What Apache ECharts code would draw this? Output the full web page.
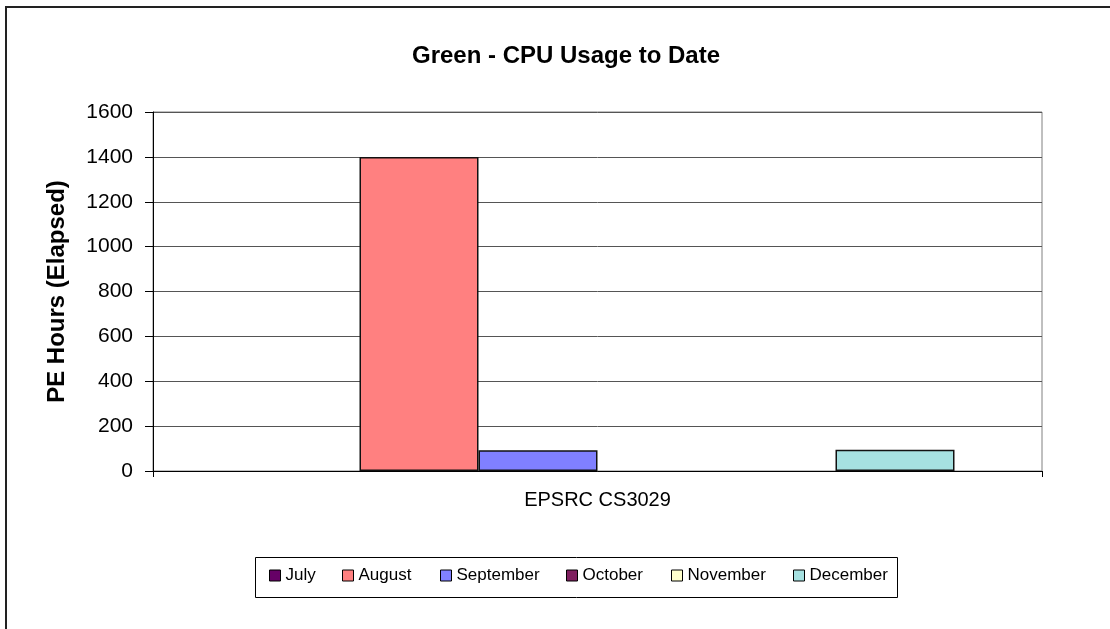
<!DOCTYPE html>
<html>
<head>
<meta charset="utf-8">
<script src="https://cdn.jsdelivr.net/npm/echarts@6/dist/echarts.min.js"></script>
<style>
  html, body { margin: 0; padding: 0; background: #fff; }
  #chart { width: 1110px; height: 629px; }
</style>
</head>
<body>
<div id="chart"></div>
<script>
// data
const categories = ['EPSRC CS3029']
const months = ['July', 'August', 'September', 'October', 'November', 'December']
const hours = [0, 1400, 93, 0, 0, 95]
const colors = ['#660066', '#ff8080', '#8080ff', '#7f1f5f', '#ffffcc', '#a6e1e1']
const yTicks = { min: 0, max: 1600, interval: 200 }

// legend keys sit in fixed slots like the excel legend
const legendLeft = [269, 342, 440, 566, 671, 793]

const font = 'Liberation Sans, Arial, sans-serif'
const chart = echarts.init(document.getElementById('chart'))

chart.setOption({
  animation: false,
  textStyle: { fontFamily: font, color: '#000' },
  title: {
    text: 'Green - CPU Usage to Date',
    left: 561,
    top: 39,
    textAlign: 'center',
    textStyle: { fontFamily: font, fontSize: 24, fontWeight: 'bold', color: '#000' }
  },
  graphic: [
    {
      type: 'rect',
      shape: { x: 6, y: 7, width: 1200, height: 700 },
      style: { fill: 'none', stroke: '#222', lineWidth: 2 },
      silent: true
    },
    {
      type: 'rect',
      shape: { x: 255.5, y: 557.5, width: 642, height: 40 },
      style: { fill: 'none', stroke: '#000', lineWidth: 1 },
      silent: true
    }
  ],
  legend: months.map((m, i) => ({
    left: legendLeft[i],
    top: 567,
    padding: 0,
    itemWidth: 11,
    itemHeight: 11,
    icon: 'rect',
    textStyle: { fontFamily: font, fontSize: 17, color: '#000' },
    data: [{ name: m, itemStyle: { borderColor: '#000', borderWidth: 1 } }]
  })),
  grid: {
    left: 153,
    right: 68,
    top: 112,
    bottom: 158,
    show: true,
    borderColor: '#808080',
    borderWidth: 1
  },
  xAxis: {
    type: 'category',
    data: categories,
    axisLine: { lineStyle: { color: '#000' } },
    axisTick: { show: true, length: 6, lineStyle: { color: '#000' } },
    axisLabel: { fontFamily: font, fontSize: 20, color: '#000', margin: 19 }
  },
  yAxis: {
    type: 'value',
    min: yTicks.min,
    max: yTicks.max,
    interval: yTicks.interval,
    name: 'PE Hours (Elapsed)',
    nameLocation: 'middle',
    nameGap: 84,
    nameTextStyle: { fontFamily: font, fontSize: 24, fontWeight: 'bold', color: '#000' },
    axisLine: { show: true, lineStyle: { color: '#000' } },
    axisTick: { show: true, length: 8, lineStyle: { color: '#000' } },
    axisLabel: { fontFamily: font, fontSize: 21, color: '#000', margin: 20, formatter: v => String(v) },
    splitLine: { show: true, lineStyle: { color: '#555', width: 1 } }
  },
  series: months.map((m, i) => ({
    name: m,
    type: 'bar',
    barWidth: 119,
    barGap: '0%',
    data: [hours[i]],
    itemStyle: { color: colors[i], borderColor: '#111', borderWidth: hours[i] ? 1.5 : 0 }
  }))
})
</script>
</body>
</html>
